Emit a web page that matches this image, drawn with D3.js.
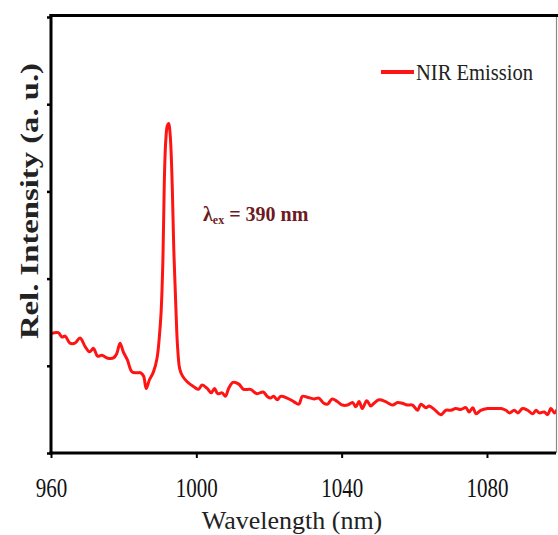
<!DOCTYPE html>
<html>
<head>
<meta charset="utf-8">
<script src="https://cdn.jsdelivr.net/npm/d3@7"></script>
<style>
  html, body { margin: 0; padding: 0; background: #fff; }
  svg { display: block; }
  text { font-family: "Liberation Serif", "Times New Roman", serif; }
</style>
</head>
<body>
<svg id="chart" width="558" height="535"></svg>
<script>
// NIR emission spectrum (excitation at 390 nm)
const wavelength = [
  960.0, 962.0, 963.0, 963.9, 965.2, 966.6, 968.0, 969.4, 970.6, 971.7,
  972.8, 974.0, 975.4, 977.2, 978.1, 979.0, 979.9, 981.0, 982.3, 983.6,
  984.7, 985.5, 986.2, 987.1, 988.2, 989.2, 989.8, 990.3, 990.8, 991.2,
  991.6, 992.0, 992.4, 992.7, 993.0, 993.4, 993.8, 994.2, 994.6, 994.9,
  995.4, 996.1, 997.4, 999.3, 1000.6, 1001.6, 1003.0, 1004.1, 1005.0, 1005.9,
  1007.1, 1008.0, 1008.9, 1010.1, 1011.7, 1013.0, 1014.9, 1016.7, 1018.4, 1019.5,
  1020.4, 1021.3, 1022.3, 1023.2, 1025.0, 1026.8, 1028.2, 1029.2, 1030.5, 1032.4,
  1033.7, 1035.1, 1036.1, 1037.4, 1038.8, 1040.2, 1041.6, 1043.0, 1043.9, 1044.8,
  1045.7, 1046.9, 1048.0, 1048.9, 1050.3, 1052.1, 1054.0, 1055.4, 1056.7, 1058.1,
  1059.5, 1060.9, 1061.8, 1063.2, 1064.1, 1065.5, 1067.3, 1068.7, 1070.1, 1071.4,
  1072.8, 1074.2, 1075.1, 1076.1, 1077.0, 1078.3, 1080.2, 1082.0, 1083.9, 1085.2,
  1086.2, 1087.5, 1088.5, 1089.8, 1091.2, 1092.6, 1093.5, 1094.4, 1095.8, 1096.7,
  1097.6, 1098.6, 1099.3
];
const intensity = [
  1.37, 1.38, 1.33, 1.34, 1.26, 1.26, 1.32, 1.22, 1.16, 1.20,
  1.11, 1.12, 1.09, 1.09, 1.14, 1.26, 1.16, 1.07, 0.93, 0.92,
  0.92, 0.88, 0.74, 0.84, 0.93, 1.09, 1.32, 1.61, 2.21, 3.13,
  3.59, 3.75, 3.78, 3.70, 3.51, 3.02, 2.33, 1.87, 1.41, 1.18,
  0.97, 0.89, 0.82, 0.76, 0.73, 0.78, 0.74, 0.69, 0.74, 0.68,
  0.69, 0.65, 0.74, 0.81, 0.79, 0.73, 0.73, 0.68, 0.70, 0.65,
  0.63, 0.65, 0.61, 0.65, 0.63, 0.59, 0.56, 0.65, 0.64, 0.62,
  0.63, 0.57, 0.56, 0.62, 0.59, 0.55, 0.55, 0.58, 0.53, 0.59,
  0.51, 0.60, 0.54, 0.57, 0.61, 0.59, 0.55, 0.58, 0.57, 0.55,
  0.55, 0.49, 0.56, 0.52, 0.54, 0.50, 0.44, 0.49, 0.49, 0.51,
  0.50, 0.52, 0.47, 0.52, 0.45, 0.49, 0.51, 0.51, 0.51, 0.49,
  0.46, 0.49, 0.46, 0.51, 0.49, 0.45, 0.49, 0.46, 0.47, 0.44,
  0.51, 0.46, 0.50
];
const xTicks = [960, 1000, 1040, 1080];
const yTicks = [0, 1, 2, 3, 4, 5];
const seriesName = "NIR Emission";
const xTitle = "Wavelength (nm)";
const yTitle = "Rel. Intensity (a. u.)";

const plot = { left: 51, right: 556, top: 16, bottom: 453 };
const lineColor = "#ff1414";

const svg = d3.select("#chart");

const x = d3.scaleLinear().domain([960, 1099]).range([plot.left, plot.right]);
const y = d3.scaleLinear().domain([0, 5]).range([plot.bottom, 17]);

svg.append("defs").append("clipPath").attr("id", "plotClip")
  .append("rect")
  .attr("x", plot.left).attr("y", plot.top)
  .attr("width", plot.right - plot.left).attr("height", plot.bottom - plot.top);

// spectrum
const points = wavelength.map((w, i) => [w, intensity[i]]);
const line = d3.line()
  .x(d => x(d[0]))
  .y(d => y(d[1]))
  .curve(d3.curveCatmullRom.alpha(0.5));

svg.append("path")
  .datum(points)
  .attr("clip-path", "url(#plotClip)")
  .attr("fill", "none")
  .attr("stroke", lineColor)
  .attr("stroke-width", 3)
  .attr("stroke-linejoin", "round")
  .attr("d", line);

// frame: thin right edge, heavy top edge
svg.append("line")
  .attr("x1", plot.right + 0.5).attr("x2", plot.right + 0.5)
  .attr("y1", plot.top).attr("y2", plot.bottom)
  .attr("stroke", "#8a8a8a").attr("stroke-width", 1.2);
svg.append("line")
  .attr("x1", plot.left - 1.5).attr("x2", 558)
  .attr("y1", 15.5).attr("y2", 15.5)
  .attr("stroke", "#000").attr("stroke-width", 3);

// axes
const xAxis = d3.axisBottom(x)
  .tickValues(xTicks)
  .tickFormat(d3.format("d"))
  .tickSize(5).tickSizeOuter(0).tickPadding(15);
const gx = svg.append("g")
  .attr("transform", `translate(0,${plot.bottom})`)
  .call(xAxis);
gx.select(".domain").attr("stroke", "#000").attr("stroke-width", 3)
  .attr("d", `M${plot.left - 1.5},0H${plot.right}`);
gx.selectAll(".tick line").attr("stroke", "#000").attr("stroke-width", 2);
gx.selectAll(".tick text")
  .attr("fill", "#111")
  .style("font-size", "28px")
  .attr("dy", "0.85em")
  .attr("lengthAdjust", "spacingAndGlyphs")
  .attr("textLength", d => String(d).length * 10.5)
  .attr("x", d => -String(d).length * 5.25)
  .attr("text-anchor", "start");

const yAxis = d3.axisLeft(y).tickValues(yTicks).tickSize(4).tickSizeOuter(0).tickFormat("");
const gy = svg.append("g")
  .attr("transform", `translate(${plot.left},0)`)
  .call(yAxis);
gy.select(".domain").attr("stroke", "#000").attr("stroke-width", 3)
  .attr("d", `M0,${plot.top - 2}V${plot.bottom + 1.5}`);
gy.selectAll(".tick line").attr("stroke", "#000").attr("stroke-width", 2.5);

// axis titles
svg.append("text")
  .attr("x", 292).attr("y", 529)
  .attr("text-anchor", "middle")
  .attr("fill", "#222")
  .style("font-size", "26px")
  .text(xTitle);

svg.append("text")
  .attr("transform", "translate(38,201) rotate(-90)")
  .attr("text-anchor", "middle")
  .attr("fill", "#222")
  .style("font-size", "25px")
  .style("font-weight", "bold")
  .attr("lengthAdjust", "spacingAndGlyphs")
  .attr("textLength", 276)
  .text(yTitle);

// legend
svg.append("line")
  .attr("x1", 381).attr("x2", 414)
  .attr("y1", 72).attr("y2", 72)
  .attr("stroke", lineColor).attr("stroke-width", 4);
svg.append("text")
  .attr("x", 416).attr("y", 80)
  .attr("fill", "#222")
  .style("font-size", "23px")
  .attr("lengthAdjust", "spacingAndGlyphs")
  .attr("textLength", 117)
  .text(seriesName);

// excitation wavelength note
const note = svg.append("text")
  .attr("x", 203).attr("y", 221)
  .attr("fill", "#6e1a22")
  .style("font-size", "20px")
  .style("font-weight", "bold");
note.append("tspan").text("λ");
note.append("tspan").attr("dy", 3).style("font-size", "12px").text("ex");
note.append("tspan").attr("dy", -3).text(" = 390 nm");
</script>
</body>
</html>
